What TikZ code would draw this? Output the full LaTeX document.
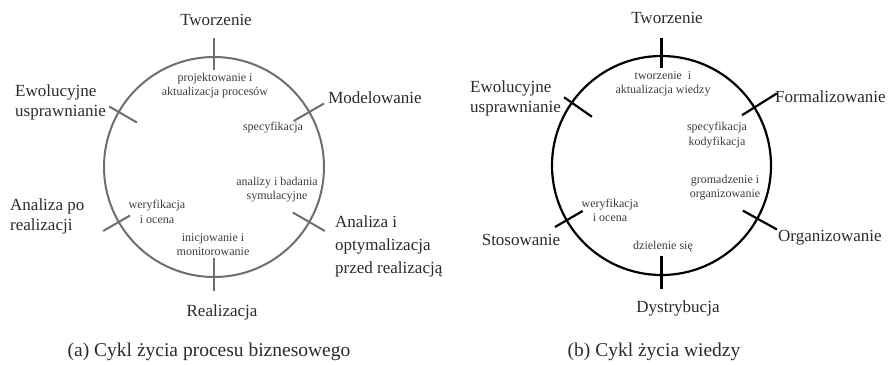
\documentclass[tikz,border=0pt]{standalone}
\usepackage{fontspec}
\setmainfont{Liberation Serif}
\usetikzlibrary{calc}
\definecolor{lgray}{HTML}{6E6E6E}
\definecolor{ltext}{HTML}{2A2A2A}
\definecolor{stext}{HTML}{3C3C3C}
\begin{document}
\begin{tikzpicture}[x=1pt,y=-1pt,
  big/.style={inner sep=0pt, text=ltext, font=\fontsize{17}{20}\selectfont, align=center},
  bigl/.style={big, align=left, anchor=west},
  small/.style={inner sep=0pt, text=stext, font=\fontsize{12}{14}\selectfont, align=center},
  capt/.style={inner sep=0pt, text=ltext, font=\fontsize{19.5}{22}\selectfont},
  ringA/.style={draw=lgray, line width=2pt},
  ringB/.style={draw=black, line width=2.2pt},
  tickA/.style={draw=lgray, line width=2pt},
  tickB/.style={draw=black, line width=2.2pt}]
\useasboundingbox (0,0) rectangle (890,364);
% ---------- (a) ----------
\coordinate (c1) at (214,167);
\draw[ringA] (c1) circle[radius=110pt];
\foreach \a/\ri/\ro in {90/97/129, 30/92/127, 150/89/121, 210/97/128, -30/91/128, -90/91/124}
  \draw[tickA] ($(c1)+({cos(\a)*\ri},{-sin(\a)*\ri})$) -- ($(c1)+({cos(\a)*\ro},{-sin(\a)*\ro})$);
\node[big] (tw1) at (216,20) {Tworzenie};
\node[bigl] (ew1) at (15,102) {Ewolucyjne\\usprawnianie};
\node[big] (mo1) at (375,98) {Modelowanie};
\node[bigl] (ap1) at (10,216) {Analiza po\\realizacji};
\node[bigl, font=\fontsize{17}{23}\selectfont] (ai1) at (335,246) {Analiza i\\optymalizacja\\przed realizacją};
\node[big] (re1) at (222,312) {Realizacja};
\node[small] (s1) at (215,86) {projektowanie i\\aktualizacja procesów};
\node[small] (s2) at (273,128) {specyfikacja};
\node[small] (s3) at (277,190) {analizy i badania\\symulacyjne};
\node[small, font=\fontsize{12}{15}\selectfont] (s4) at (157,212) {weryfikacja\\i ocena};
\node[small] (s5) at (213,245) {inicjowanie i\\monitorowanie};
\node[capt] (cap1) at (209,352) {(a) Cykl życia procesu biznesowego};
% ---------- (b) ----------
\coordinate (c2) at (661.5,165.5);
\draw[ringB] (c2) circle[radius=109.5pt];
\foreach \a/\ri/\ro in {90/98/128, 32/95/136, 145/85/119, 210/91/123, -29/93/132, -90/90/123}
  \draw[tickB] ($(c2)+({cos(\a)*\ri},{-sin(\a)*\ri})$) -- ($(c2)+({cos(\a)*\ro},{-sin(\a)*\ro})$);
\node[big] (tw2) at (667,18) {Tworzenie};
\node[bigl] (ew2) at (470,98) {Ewolucyjne\\usprawnianie};
\node[bigl] (fo2) at (775,97) {Formalizowanie};
\node[bigl] (or2) at (778,238) {Organizowanie};
\node[big] (st2) at (521,240) {Stosowanie};
\node[big] (dy2) at (678,308) {Dystrybucja};
\node[small] (t1) at (663,84) {tworzenie~ i\\aktualizacja wiedzy};
\node[small, font=\fontsize{12}{15}\selectfont] (t2) at (717,135) {specyfikacja\\kodyfikacja};
\node[small] (t3) at (725,188) {gromadzenie i\\organizowanie};
\node[small] (t4) at (610,210) {weryfikacja\\i ocena};
\node[small] (t5) at (663,247) {dzielenie się};
\node[capt] (cap2) at (654,352) {(b) Cykl życia wiedzy};
\end{tikzpicture}
\end{document}
